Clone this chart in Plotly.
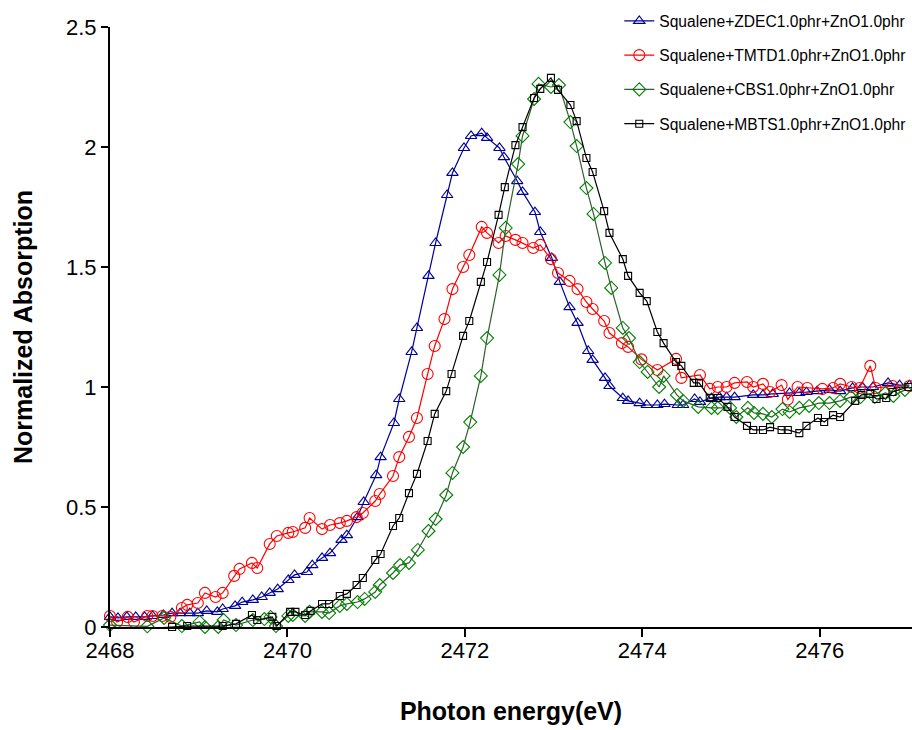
import plotly.graph_objects as go

# Sulfur K-edge XANES spectra, squalene model compounds with 1.0 phr ZnO

zdec_e = [2468.00, 2468.09, 2468.19, 2468.29, 2468.39, 2468.48, 2468.60, 2468.70, 2468.79, 2468.90,
          2468.99, 2469.09, 2469.21, 2469.27, 2469.41, 2469.49, 2469.61, 2469.71, 2469.80, 2469.89,
          2470.01, 2470.08, 2470.22, 2470.28, 2470.39, 2470.48, 2470.61, 2470.67, 2470.79, 2470.86,
          2471.00, 2471.05, 2471.20, 2471.26, 2471.40, 2471.46, 2471.59, 2471.67, 2471.80, 2471.86,
          2471.99, 2472.07, 2472.19, 2472.25, 2472.39, 2472.44, 2472.59, 2472.65, 2472.79, 2472.85,
          2472.98, 2473.07, 2473.18, 2473.27, 2473.39, 2473.44, 2473.58, 2473.63, 2473.78, 2473.84,
          2473.97, 2474.05, 2474.17, 2474.25, 2474.40, 2474.46, 2474.59, 2474.65, 2474.78, 2474.87,
          2474.95, 2475.04, 2475.25, 2475.36, 2475.47, 2475.66, 2475.77, 2475.85, 2475.97, 2476.11,
          2476.23, 2476.37, 2476.48, 2476.60, 2476.77, 2476.90, 2477.01]
zdec_a = [0.042, 0.038, 0.042, 0.042, 0.042, 0.046, 0.050, 0.058, 0.058, 0.058,
          0.058, 0.067, 0.063, 0.075, 0.088, 0.104, 0.113, 0.125, 0.142, 0.158,
          0.196, 0.217, 0.229, 0.258, 0.288, 0.308, 0.363, 0.383, 0.458, 0.521,
          0.633, 0.708, 0.850, 0.950, 1.146, 1.246, 1.463, 1.600, 1.800, 1.892,
          1.996, 2.046, 2.058, 2.038, 1.996, 1.958, 1.858, 1.813, 1.729, 1.646,
          1.538, 1.438, 1.333, 1.267, 1.150, 1.113, 1.038, 1.004, 0.954, 0.942,
          0.933, 0.925, 0.925, 0.929, 0.925, 0.925, 0.950, 0.938, 0.954, 0.958,
          0.958, 0.958, 0.967, 0.967, 0.971, 0.975, 0.975, 0.979, 0.983, 0.988,
          0.983, 0.996, 1.000, 1.000, 1.017, 1.008, 1.008]

tmtd_e = [2468.00, 2468.08, 2468.20, 2468.27, 2468.42, 2468.48, 2468.59, 2468.68, 2468.81, 2468.87,
          2468.99, 2469.07, 2469.19, 2469.27, 2469.40, 2469.46, 2469.60, 2469.66, 2469.80, 2469.88,
          2470.01, 2470.06, 2470.20, 2470.25, 2470.39, 2470.48, 2470.59, 2470.67, 2470.78, 2470.85,
          2470.99, 2471.04, 2471.19, 2471.26, 2471.37, 2471.46, 2471.58, 2471.66, 2471.77, 2471.86,
          2471.98, 2472.05, 2472.19, 2472.25, 2472.38, 2472.46, 2472.57, 2472.65, 2472.77, 2472.85,
          2472.97, 2473.05, 2473.18, 2473.27, 2473.37, 2473.44, 2473.57, 2473.63, 2473.77, 2473.84,
          2473.99, 2474.17, 2474.38, 2474.44, 2474.65, 2474.76, 2474.85, 2474.95, 2475.04, 2475.18,
          2475.25, 2475.36, 2475.44, 2475.57, 2475.64, 2475.75, 2475.86, 2476.03, 2476.15, 2476.23,
          2476.36, 2476.45, 2476.57, 2476.63, 2476.82, 2477.01]
tmtd_a = [0.046, 0.021, 0.042, 0.021, 0.046, 0.046, 0.046, 0.042, 0.079, 0.092,
          0.100, 0.142, 0.125, 0.142, 0.213, 0.242, 0.267, 0.246, 0.346, 0.379,
          0.392, 0.396, 0.413, 0.454, 0.408, 0.425, 0.433, 0.442, 0.458, 0.475,
          0.525, 0.554, 0.629, 0.708, 0.792, 0.871, 1.054, 1.171, 1.283, 1.408,
          1.500, 1.550, 1.667, 1.642, 1.600, 1.629, 1.613, 1.600, 1.579, 1.592,
          1.533, 1.475, 1.442, 1.408, 1.354, 1.325, 1.275, 1.225, 1.183, 1.167,
          1.115, 1.071, 1.117, 1.038, 1.050, 0.992, 1.000, 1.000, 1.017, 1.021,
          1.000, 1.013, 0.979, 1.008, 0.948, 1.000, 0.996, 0.992, 0.996, 1.013,
          1.000, 0.996, 1.088, 0.996, 1.004, 1.004]

cbs_e = [2468.00, 2468.42, 2468.61, 2468.81, 2469.01, 2469.07, 2469.22, 2469.28, 2469.42, 2469.61,
         2469.74, 2469.81, 2469.87, 2470.01, 2470.06, 2470.20, 2470.25, 2470.39, 2470.47, 2470.59,
         2470.67, 2470.79, 2470.87, 2470.99, 2471.04, 2471.19, 2471.27, 2471.37, 2471.47, 2471.59,
         2471.67, 2471.79, 2471.86, 2471.98, 2472.06, 2472.18, 2472.25, 2472.39, 2472.46, 2472.60,
         2472.65, 2472.78, 2472.83, 2472.97, 2473.06, 2473.19, 2473.26, 2473.37, 2473.45, 2473.58,
         2473.65, 2473.78, 2473.85, 2473.97, 2474.06, 2474.19, 2474.24, 2474.39, 2474.46, 2474.63,
         2474.78, 2474.85, 2474.99, 2475.06, 2475.19, 2475.26, 2475.36, 2475.46, 2475.58, 2475.66,
         2475.77, 2475.88, 2475.99, 2476.11, 2476.23, 2476.35, 2476.46, 2476.62, 2476.74, 2476.83,
         2476.96]
cbs_a = [0.008, 0.003, 0.038, 0.004, 0.021, 0.000, 0.000, 0.029, 0.008, 0.029,
         0.033, 0.042, 0.004, 0.046, 0.050, 0.046, 0.063, 0.063, 0.058, 0.088,
         0.096, 0.104, 0.117, 0.146, 0.175, 0.225, 0.258, 0.267, 0.321, 0.400,
         0.450, 0.550, 0.642, 0.750, 0.854, 1.046, 1.204, 1.467, 1.663, 1.929,
         2.046, 2.200, 2.263, 2.250, 2.258, 2.104, 2.004, 1.829, 1.721, 1.517,
         1.413, 1.246, 1.204, 1.104, 1.063, 1.000, 1.046, 0.967, 0.942, 0.917,
         0.913, 0.913, 0.913, 0.875, 0.913, 0.892, 0.888, 0.875, 0.908, 0.896,
         0.913, 0.921, 0.933, 0.933, 0.942, 0.958, 0.958, 0.958, 0.975, 0.963,
         0.988]

mbts_e = [2468.00, 2468.15, 2468.35, 2468.55, 2468.70, 2468.87, 2469.27, 2469.42, 2469.60, 2469.66,
          2469.83, 2469.88, 2470.03, 2470.09, 2470.20, 2470.26, 2470.39, 2470.47, 2470.59, 2470.67,
          2470.78, 2470.85, 2470.99, 2471.05, 2471.19, 2471.26, 2471.37, 2471.46, 2471.58, 2471.66,
          2471.79, 2471.85, 2471.98, 2472.05, 2472.18, 2472.25, 2472.38, 2472.45, 2472.57, 2472.65,
          2472.78, 2472.85, 2472.97, 2473.05, 2473.19, 2473.26, 2473.37, 2473.44, 2473.57, 2473.63,
          2473.78, 2473.84, 2473.97, 2474.05, 2474.17, 2474.24, 2474.38, 2474.44, 2474.58, 2474.64,
          2474.76, 2474.85, 2474.96, 2475.04, 2475.18, 2475.25, 2475.36, 2475.44, 2475.57, 2475.64,
          2475.77, 2475.85, 2475.98, 2476.05, 2476.15, 2476.23, 2476.40, 2476.47, 2476.57, 2476.64,
          2476.75, 2476.82, 2477.00]
mbts_a = [-0.008, -0.004, -0.008, -0.004, 0.000, 0.004, 0.004, 0.013, 0.050, 0.029,
          0.042, 0.004, 0.063, 0.063, 0.050, 0.067, 0.096, 0.096, 0.129, 0.138,
          0.175, 0.204, 0.279, 0.304, 0.421, 0.454, 0.558, 0.638, 0.775, 0.888,
          0.983, 1.054, 1.213, 1.275, 1.438, 1.521, 1.717, 1.833, 2.008, 2.083,
          2.204, 2.242, 2.288, 2.238, 2.175, 2.108, 1.954, 1.896, 1.733, 1.642,
          1.533, 1.463, 1.392, 1.358, 1.229, 1.183, 1.104, 1.088, 1.017, 1.017,
          0.954, 0.954, 0.917, 0.875, 0.838, 0.821, 0.821, 0.833, 0.821, 0.821,
          0.808, 0.838, 0.871, 0.854, 0.883, 0.875, 0.942, 0.967, 0.971, 0.950,
          0.954, 0.979, 1.000]

x_ticks = [2468, 2470, 2472, 2474, 2476]
y_ticks = [0, 0.5, 1, 1.5, 2, 2.5]
y_tick_text = ["0", "0.5", "1", "1.5", "2", "2.5"]

FONT = "Arial, 'Liberation Sans', sans-serif"

series = [
    ("Squalene+ZDEC1.0phr+ZnO1.0phr", zdec_e, zdec_a, "#000099", "#000099", "triangle-up-open", 10),
    ("Squalene+TMTD1.0phr+ZnO1.0phr", tmtd_e, tmtd_a, "#FF0000", "#FF0000", "circle-open", 11),
    ("Squalene+CBS1.0phr+ZnO1.0phr", cbs_e, cbs_a, "#2F5F2F", "#008000", "diamond-open", 10),
    ("Squalene+MBTS1.0phr+ZnO1.0phr", mbts_e, mbts_a, "#000000", "#000000", "square-open", 7),
]

fig = go.Figure()
for i, (name, xs, ys, lc, mc, sym, sz) in enumerate(series):
    fig.add_trace(go.Scatter(
        x=xs, y=ys, name=name, mode="lines+markers", legendgroup=f"g{i}",
        line=dict(color=lc, width=1.2),
        marker=dict(symbol=sym, size=sz, color=mc, line=dict(color=mc, width=1.1)),
        cliponaxis=False,
    ))

fig.update_layout(
    width=912, height=730,
    margin=dict(l=110, r=0, t=27, b=103, autoexpand=False),
    paper_bgcolor="white", plot_bgcolor="white",
    font=dict(family=FONT, color="black"),
    showlegend=True,
    legend=dict(
        x=0.635, y=1.038, xanchor="left", yanchor="top",
        bgcolor="rgba(0,0,0,0)", font=dict(size=15.6, family=FONT),
        tracegroupgap=11,
    ),
)
fig.update_xaxes(
    range=[2468, 2477.04], tickvals=x_ticks, ticktext=[str(t) for t in x_ticks],
    showgrid=False, zeroline=False, showline=True, linecolor="black", linewidth=2,
    ticks="outside", ticklen=8, tickwidth=2, tickcolor="black", ticklabelstandoff=-5,
    tickfont=dict(size=22, family=FONT),
    title=dict(text="<b>Photon energy(eV)</b>", font=dict(size=25, family=FONT), standoff=40),
)
fig.update_yaxes(
    range=[0, 2.5], tickvals=y_ticks, ticktext=y_tick_text,
    showgrid=False, zeroline=False, showline=True, linecolor="black", linewidth=2,
    ticks="outside", ticklen=7, tickwidth=2, tickcolor="black",
    tickfont=dict(size=22, family=FONT),
    title=dict(text="<b>Normalized Absorption</b>", font=dict(size=25, family=FONT), standoff=26),
)

fig.write_html("out.html")
